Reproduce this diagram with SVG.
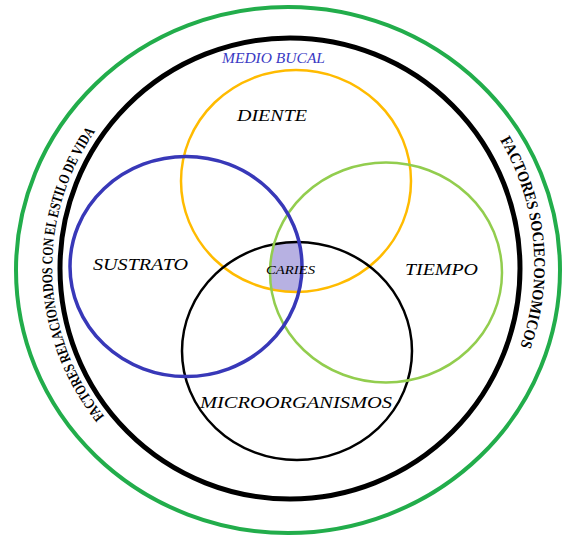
<svg xmlns="http://www.w3.org/2000/svg" width="565" height="537" viewBox="0 0 565 537">
<style>
.lbl{font-family:"Liberation Serif","DejaVu Serif",serif;font-style:italic;fill:#000;text-anchor:start}
.arc{font-family:"Liberation Serif","DejaVu Serif",serif;font-weight:bold;fill:#000}
.ring{fill:none}
</style>
<defs>
<clipPath id="cBlue"><ellipse cx="186" cy="266.5" rx="116" ry="110"/></clipPath>
<clipPath id="cYel"><ellipse cx="296" cy="181" rx="115" ry="111"/></clipPath>
<clipPath id="cBlk"><ellipse cx="297" cy="351" rx="115" ry="109"/></clipPath>
<path id="leftArc" d="M 104.6 416.5 A 237 237 0 0 1 97.3 128.7"/>
<path id="rightArc" d="M 500 140 A 244 244 0 0 1 517 355"/>
</defs>
<rect width="565" height="537" fill="#fff"/>

<g id="factores-socioeconomicos">
<ellipse class="ring" cx="288" cy="270" rx="272" ry="263" stroke="#22ad4b" stroke-width="4"/>
<text class="arc" font-size="16"><textPath href="#rightArc" textLength="214" lengthAdjust="spacingAndGlyphs">FACTORES SOCIECONOMICOS</textPath></text>
</g>

<g id="factores-estilo-de-vida">
<text class="arc" font-size="15"><textPath href="#leftArc" textLength="306" lengthAdjust="spacingAndGlyphs">FACTORES RELACIONADOS CON EL ESTILO DE VIDA</textPath></text>
</g>

<g id="medio-bucal">
<ellipse class="ring" cx="290" cy="268.5" rx="230" ry="230.5" stroke="#000" stroke-width="5"/>
<text class="lbl" x="222" y="63" font-size="14" textLength="103" lengthAdjust="spacingAndGlyphs" style="fill:#3a3ac4">MEDIO BUCAL</text>
</g>

<g id="caries">
<g clip-path="url(#cYel)"><g clip-path="url(#cBlk)"><g clip-path="url(#cBlue)">
<ellipse cx="386" cy="272.5" rx="116" ry="110" fill="#b7b1e2"/>
</g></g></g>
</g>

<g id="diente">
<ellipse class="ring" cx="296" cy="181" rx="115" ry="111" stroke="#ffbb00" stroke-width="2.5"/>
<text class="lbl" x="237" y="121" font-size="16" textLength="70" lengthAdjust="spacingAndGlyphs">DIENTE</text>
</g>

<g id="microorganismos">
<ellipse class="ring" cx="297" cy="351" rx="115" ry="109" stroke="#000" stroke-width="2.5"/>
<text class="lbl" x="200" y="408" font-size="17" textLength="192" lengthAdjust="spacingAndGlyphs">MICROORGANISMOS</text>
</g>

<g id="tiempo">
<ellipse class="ring" cx="386" cy="272.5" rx="116" ry="110" stroke="#92cd4e" stroke-width="2.5"/>
<text class="lbl" x="405" y="275" font-size="17" textLength="73" lengthAdjust="spacingAndGlyphs">TIEMPO</text>
</g>

<g id="sustrato">
<ellipse class="ring" cx="186" cy="266.5" rx="116" ry="110" stroke="#3838b8" stroke-width="3.5"/>
<text class="lbl" x="93" y="270" font-size="17" textLength="95" lengthAdjust="spacingAndGlyphs">SUSTRATO</text>
</g>

<g id="caries-label">
<text class="lbl" x="266" y="274" font-size="12" textLength="49" lengthAdjust="spacingAndGlyphs">CARIES</text>
</g>

<g id="connectors"></g>
</svg>
